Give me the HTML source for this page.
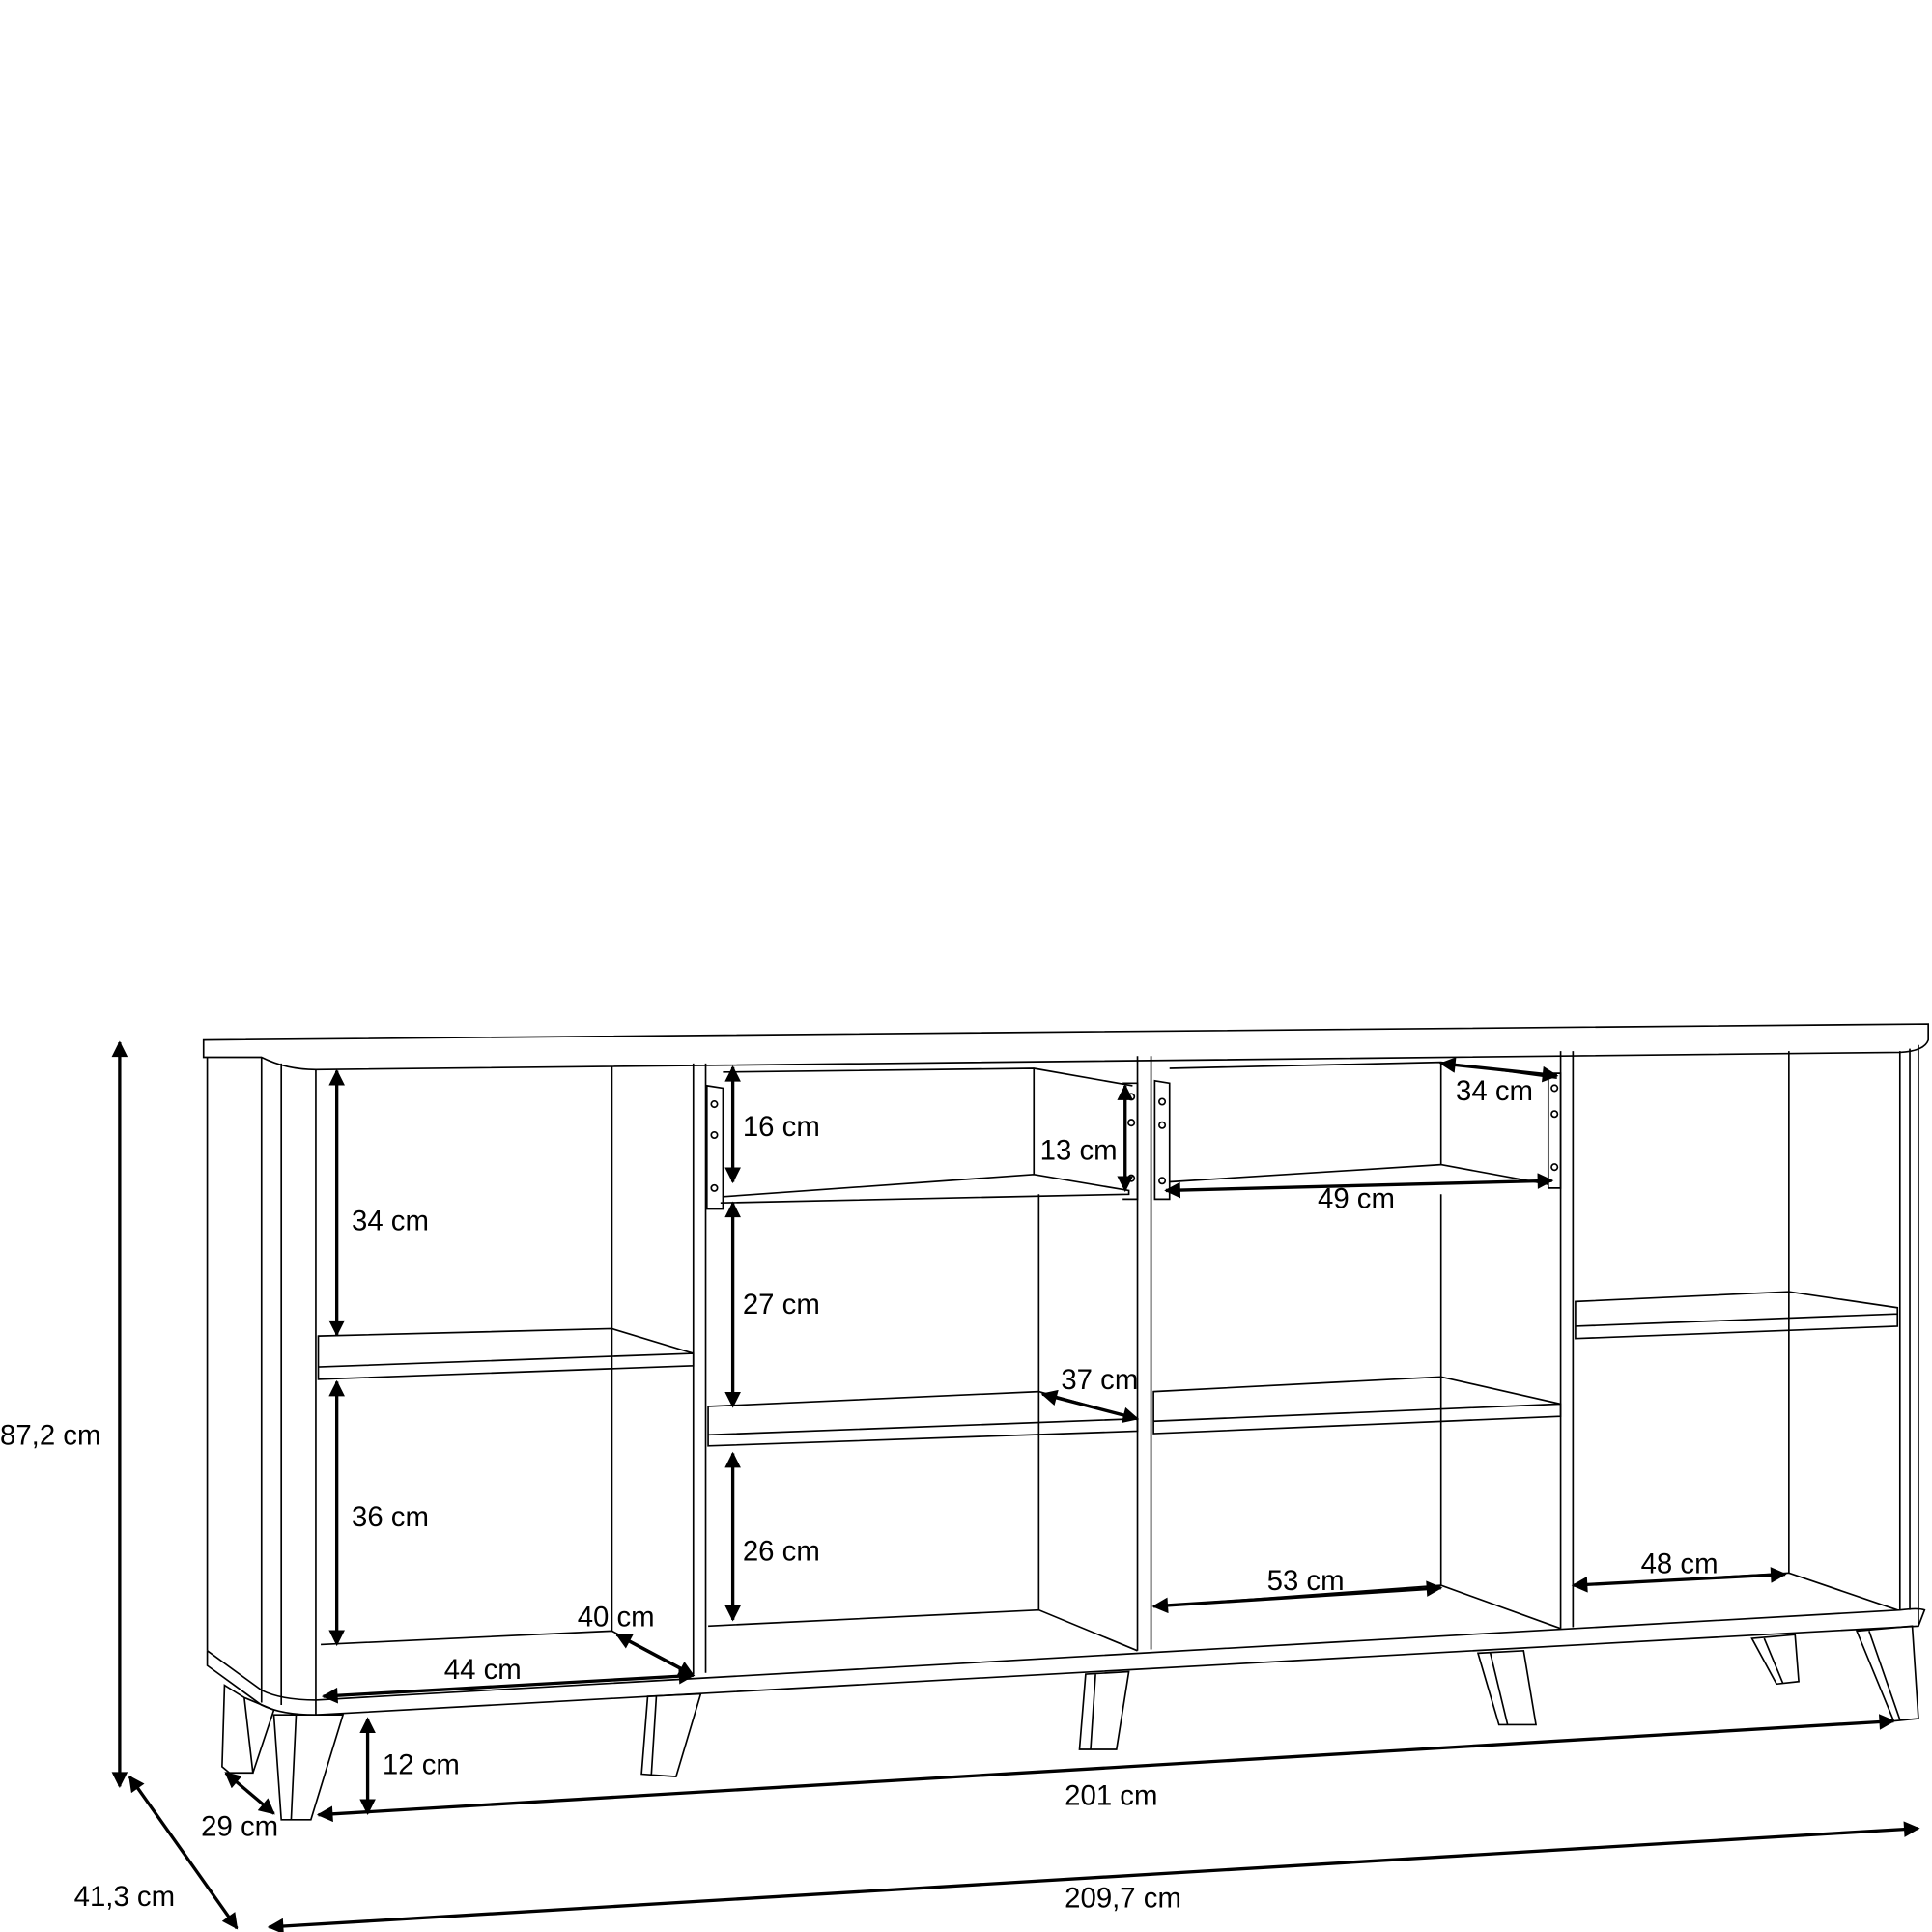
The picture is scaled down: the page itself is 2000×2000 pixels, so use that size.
<!DOCTYPE html>
<html><head><meta charset="utf-8"><style>
html,body{margin:0;padding:0;background:#fff}
svg{display:block}
text{font-family:"Liberation Sans",sans-serif;font-size:23px;fill:#000}
.l{fill:none;stroke:#000;stroke-width:1.3}
.a{fill:none;stroke:#000;stroke-width:2.6}
</style></head><body>
<svg width="2000" height="2000" viewBox="0 0 1566 1566" xmlns="http://www.w3.org/2000/svg">
<defs>
<marker id="h" viewBox="0 0 10 10" refX="9" refY="5" markerWidth="6" markerHeight="5" orient="auto-start-reverse" markerUnits="strokeWidth"><path d="M0,0 L10,5 L0,10 z" fill="#000"/></marker>
</defs>
<g class="l">
<path d="M165,843 L1563,830 L1563,843 Q1560,852 1540,853 L256,867 Q232,867 212,857 L165,857 Z"/>
<path d="M212,857 L212,1380"/>
<path d="M228,862 L228,1382"/>
<path d="M256,867 L256,1390"/>
<path d="M168,857 L168,1338"/>
<path d="M168,1338 L168,1350 L212,1382 Q228,1390 256,1390 L1555,1318 L1560,1305 Q1555,1303 1540,1305 L256,1378 Q228,1378 212,1370 L168,1338"/>
<path d="M1540,852 L1540,1305 M1555,847 L1555,1318 M1548,850 L1548,1305"/>
<path d="M562,862 L562,1357 M572,862 L572,1356"/>
<path d="M922,856 L922,1338 M933,856 L933,1337"/>
<path d="M1265,852 L1265,1320 M1275,852 L1275,1319"/>
<path d="M496,864 L496,1322"/>
<path d="M258,1083 L496,1077 L562,1097 L562,1107 L258,1118 Z M258,1108 L562,1097"/>
<path d="M260,1333 L496,1322 L562,1357"/>
<path d="M842,968 L842,1305"/>
<path d="M586,869 L838,866 L918,880 M838,866 L838,952"/>
<path d="M586,970 L838,952 L915,965 L915,968 L584,975"/>
<path d="M573,880 L586,882 L586,980 L573,980 Z"/>
<path d="M910,878 L922,878 L922,972 L910,972"/>
<path d="M574,1140 L842,1128 L922,1150 L922,1160 L574,1172 Z M574,1163 L922,1150"/>
<path d="M574,1318 L842,1305 L922,1338"/>
<path d="M948,866 L1168,861 L1262,874 M1168,861 L1168,944"/>
<path d="M948,958 L1168,944 L1255,960"/>
<path d="M936,876 L948,878 L948,972 L936,972 Z"/>
<path d="M1255,870 L1265,870 L1265,963 L1255,963 Z"/>
<path d="M1168,968 L1168,1285"/>
<path d="M935,1128 L1168,1116 L1265,1138 L1265,1148 L935,1162 Z M935,1152 L1265,1138"/>
<path d="M935,1302 L1168,1285 L1265,1320"/>
<path d="M1450,852 L1450,1275"/>
<path d="M1277,1055 L1450,1047 L1538,1060 L1538,1075 L1277,1085 Z M1277,1075 L1538,1065"/>
<path d="M1277,1285 L1450,1275 L1538,1305"/>
<path d="M182,1366 L198,1376 L205,1437 L186,1437 L180,1432 Z M198,1376 L222,1386 L205,1437"/>
<path d="M222,1390 L278,1390 L252,1475 L228,1475 Z M240,1390 L236,1475"/>
<path d="M525,1375 L568,1373 L548,1440 L520,1438 Z M532,1375 L528,1438"/>
<path d="M880,1357 L915,1355 L905,1418 L875,1418 Z M888,1357 L884,1418"/>
<path d="M1198,1340 L1235,1338 L1245,1398 L1215,1398 Z M1208,1340 L1222,1398"/>
<path d="M1420,1328 L1455,1325 L1458,1363 L1440,1365 Z M1430,1328 L1445,1364"/>
<path d="M1505,1322 L1550,1318 L1555,1393 L1535,1395 Z M1515,1322 L1540,1394"/>
<circle cx="579" cy="895" r="2.5"/><circle cx="579" cy="920" r="2.5"/><circle cx="579" cy="963" r="2.5"/>
<circle cx="917" cy="889" r="2.5"/><circle cx="917" cy="910" r="2.5"/><circle cx="917" cy="955" r="2.5"/>
<circle cx="942" cy="893" r="2.5"/><circle cx="942" cy="912" r="2.5"/><circle cx="942" cy="957" r="2.5"/>
<circle cx="1260" cy="882" r="2.5"/><circle cx="1260" cy="903" r="2.5"/><circle cx="1260" cy="946" r="2.5"/>
</g>
<g class="a" marker-start="url(#h)" marker-end="url(#h)">
<line x1="97" y1="845" x2="97" y2="1448"/>
<line x1="273" y1="868" x2="273" y2="1082"/>
<line x1="273" y1="1120" x2="273" y2="1333"/>
<line x1="262" y1="1375" x2="562" y2="1358"/>
<line x1="500" y1="1325" x2="562" y2="1358"/>
<line x1="594" y1="865" x2="594" y2="958"/>
<line x1="594" y1="975" x2="594" y2="1140"/>
<line x1="594" y1="1178" x2="594" y2="1313"/>
<line x1="912" y1="880" x2="912" y2="965"/>
<line x1="845" y1="1130" x2="922" y2="1150"/>
<line x1="1168" y1="862" x2="1262" y2="872"/>
<line x1="945" y1="965" x2="1258" y2="957"/>
<line x1="935" y1="1302" x2="1168" y2="1287"/>
<line x1="1275" y1="1285" x2="1447" y2="1276"/>
<line x1="298" y1="1393" x2="298" y2="1470"/>
<line x1="183" y1="1437" x2="222" y2="1470"/>
<line x1="105" y1="1440" x2="192" y2="1563"/>
<line x1="258" y1="1471" x2="1535" y2="1395"/>
<line x1="218" y1="1562" x2="1555" y2="1482"/>
</g>
<text x="0" y="1171">87,2 cm</text>
<text x="285" y="997">34 cm</text>
<text x="285" y="1237">36 cm</text>
<text x="360" y="1361">44 cm</text>
<text x="468" y="1318">40 cm</text>
<text x="602" y="921">16 cm</text>
<text x="602" y="1065">27 cm</text>
<text x="602" y="1265">26 cm</text>
<text x="843" y="940">13 cm</text>
<text x="860" y="1126">37 cm</text>
<text x="1180" y="892">34 cm</text>
<text x="1068" y="979">49 cm</text>
<text x="1027" y="1289">53 cm</text>
<text x="1330" y="1275">48 cm</text>
<text x="310" y="1438">12 cm</text>
<text x="163" y="1488">29 cm</text>
<text x="60" y="1545">41,3 cm</text>
<text x="863" y="1463">201 cm</text>
<text x="863" y="1546">209,7 cm</text>
</svg>
</body></html>
